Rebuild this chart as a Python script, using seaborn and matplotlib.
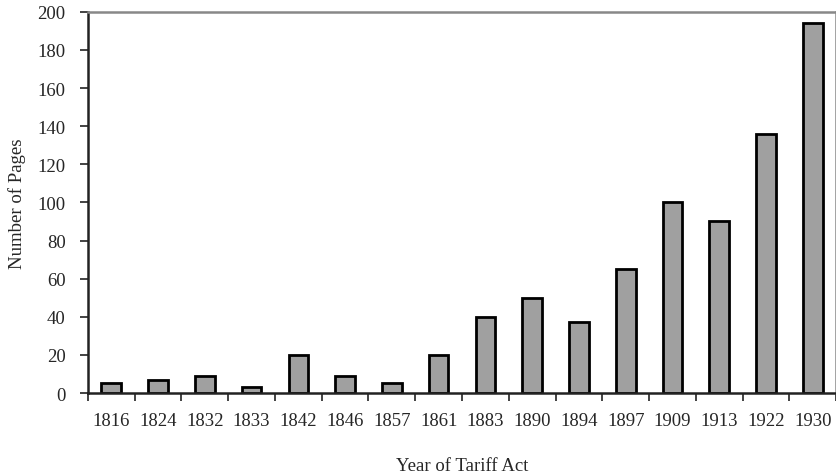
import numpy as np
import pandas as pd
import matplotlib
matplotlib.use('Agg')
import matplotlib.pyplot as plt
import seaborn as sns

years = ['1816', '1824', '1832', '1833', '1842', '1846', '1857', '1861',
         '1883', '1890', '1894', '1897', '1909', '1913', '1922', '1930']
pages = [5, 7, 9, 3, 20, 9, 5, 20, 40, 50, 37, 65, 100, 90, 136, 194]
y_ticks = list(range(0, 201, 20))

sns.set_style('white')
plt.rcParams['font.family'] = ['Liberation Serif', 'DejaVu Serif']

df = pd.DataFrame({'year': years, 'pages': pages})

fig = plt.figure(figsize=(8.37, 4.77), dpi=100)
ax = fig.add_axes([0.105, 0.174, 0.894, 0.799])

sns.barplot(data=df, x='year', y='pages', color='#a0a0a0', saturation=1,
            width=0.42, edgecolor='black', linewidth=2, ax=ax)

ax.set_xlim(-0.5, len(years) - 0.5)
ax.set_ylim(0, 200)
ax.set_yticks(y_ticks)
ax.tick_params(axis='y', which='major', direction='out', length=6, width=1.2,
               color='#222222', labelsize=13.5, pad=10, left=True)
ax.tick_params(axis='x', which='major', length=0, labelsize=13.5, pad=14)
ax.set_xticks(np.arange(-0.5, len(years), 1.0), minor=True)
ax.tick_params(axis='x', which='minor', direction='out', length=6, width=1.2,
               color='#222222', bottom=True)

for side in ['left', 'bottom']:
    ax.spines[side].set_color('#222222')
    ax.spines[side].set_linewidth(1.8)
for side in ['top', 'right']:
    ax.spines[side].set_color('#888888')
    ax.spines[side].set_linewidth(1.8)

ax.set_xlabel('Year of Tariff Act', fontsize=13.5, labelpad=19.5)
ax.set_ylabel('Number of Pages', fontsize=13.5, labelpad=8)

plt.savefig('out.png', dpi=100)
plt.close()
